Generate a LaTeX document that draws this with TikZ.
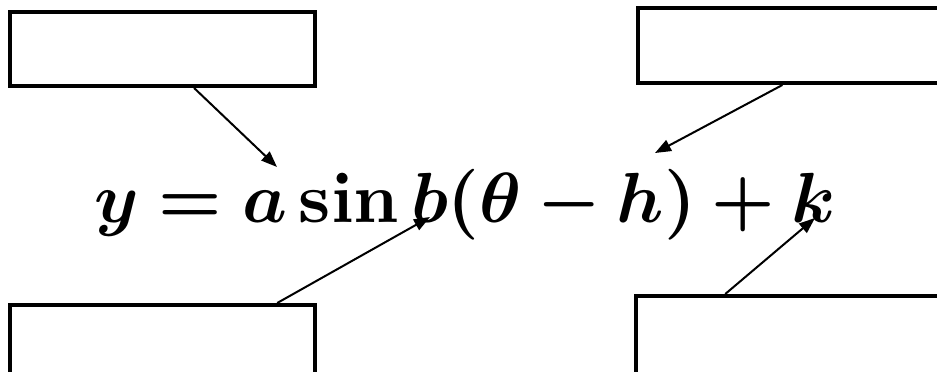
\documentclass[tikz,border=0pt]{standalone}
\usepackage{amsmath,amssymb}
\usepackage{bm}
\usetikzlibrary{arrows.meta}

\begin{document}
\begin{tikzpicture}[x=1pt, y=-1pt,
  blank/.style={draw, line width=4pt, rectangle, inner sep=0pt},
  pointer/.style={-{Triangle[length=16pt, width=12pt]}, line width=2pt}]

% Page frame
\useasboundingbox (0,0) rectangle (937,372);

% Empty answer boxes
\node[blank, minimum width=305pt, minimum height=74pt] (tl) at (162.5,49) {};
\node[blank, minimum width=307pt, minimum height=75pt] (tr) at (791.5,45.5) {};
\node[blank, minimum width=305pt, minimum height=75pt] (bl) at (162.5,342.5) {};
\node[blank, minimum width=309pt, minimum height=84pt] (br) at (790.5,338) {};

% The equation
\node[inner sep=0pt, scale=7.1] (sine) at (465,205) {$\bm{y = a\sin b(\theta - h) + k}$};

% Arrow tips near the letters
\coordinate (tipa) at (277,167);
\coordinate (tiph) at (655,153);
\coordinate (tipb) at (430,217);
\coordinate (tipk) at (815,218);

% Arrows
\draw[pointer] (tl.-51.4) -- (tipa);
\draw[pointer] (tr.257) -- (tiph);
\draw[pointer] (bl.19.2) -- (tipb);
\draw[pointer] (br.146.9) -- (tipk);

\end{tikzpicture}
\end{document}
